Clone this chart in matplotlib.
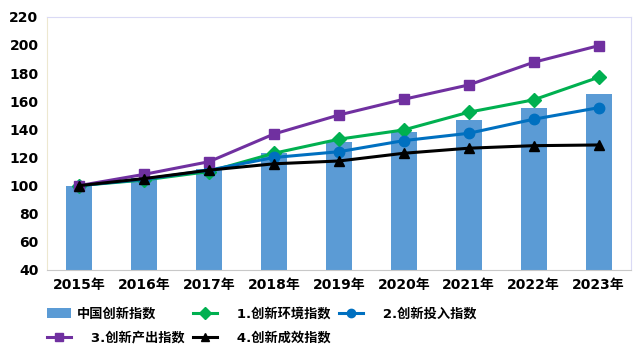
import numpy as np
import matplotlib
matplotlib.use('Agg')
import matplotlib.pyplot as plt

plt.rcParams['font.family'] = ['DejaVu Sans', 'Noto Sans CJK SC']

years = ['2015年', '2016年', '2017年', '2018年', '2019年',
         '2020年', '2021年', '2022年', '2023年']
china_index = [100, 105.4, 112.0, 123.0, 131.3, 138.4, 146.7, 155.4, 165.0]
env_index = [100, 104.0, 110.0, 123.0, 133.0, 139.6, 152.2, 161.0, 177.0]
input_index = [100, 104.5, 111.0, 120.0, 124.1, 132.0, 137.2, 147.2, 155.4]
output_index = [100, 108.0, 117.0, 136.7, 150.2, 161.4, 171.6, 187.7, 199.5]
effect_index = [100, 105.0, 111.0, 115.5, 117.5, 123.0, 126.6, 128.4, 128.9]

x = np.arange(len(years))

fig = plt.figure(figsize=(6.4, 3.59), dpi=100)
ax = fig.add_axes([0.073, 0.248, 0.913, 0.705])

bar = ax.bar(x, china_index, width=0.4, color='#5B9BD5', label='中国创新指数', zorder=1)

line_kw = dict(lw=2.2, ms=7.5, zorder=3)
l_env, = ax.plot(x, env_index, color='#00B050', marker='D', label='   1.创新环境指数', **line_kw)
l_in, = ax.plot(x, input_index, color='#0070C0', marker='o', label='   2.创新投入指数', **line_kw)
l_out, = ax.plot(x, output_index, color='#7030A0', marker='s', label='   3.创新产出指数', **line_kw)
l_eff, = ax.plot(x, effect_index, color='black', marker='^', label='   4.创新成效指数', **line_kw)

ax.set_xlim(-0.5, len(years) - 0.5)
ax.set_ylim(40, 220)
ax.set_yticks(np.arange(40, 221, 20))
ax.set_xticks(x)
ax.set_xticklabels(years)
ax.tick_params(length=0, labelsize=10, pad=6)
for lab in ax.get_xticklabels() + ax.get_yticklabels():
    lab.set_fontweight('bold')

ax.spines['left'].set_color('#EDE8D0')
ax.spines['top'].set_color('#DADAF5')
ax.spines['right'].set_color('#DADAF5')
ax.spines['bottom'].set_color('#C8C8C8')

# legend fills column by column: [bar, 3], [1, 4], [2]
handles = [bar, l_out, l_env, l_eff, l_in]
leg = fig.legend(handles, [h.get_label() for h in handles],
                 loc='upper left', bbox_to_anchor=(0.065, 0.158), ncol=3,
                 frameon=False, fontsize=9.5, handlelength=1.8,
                 handletextpad=0.5, columnspacing=0.6, labelspacing=0.85,
                 markerscale=0.8, borderaxespad=0)
for t in leg.get_texts():
    t.set_fontweight('bold')

fig.savefig('out.png', dpi=100)
